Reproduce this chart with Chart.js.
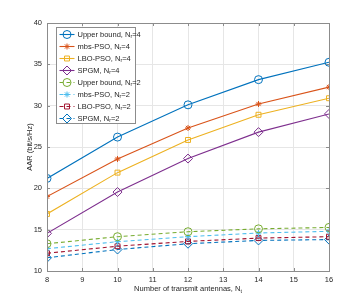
<!DOCTYPE html>
<html lang="en">
<head>
<meta charset="UTF-8">
<title>AAR vs transmit antennas</title>
<script src="https://cdn.jsdelivr.net/npm/chart.js"></script>
<style>
    html, body {
        margin: 0;
        padding: 0;
        background: #ffffff;
    }
    .chart-box {
        position: relative;
        width: 364px;
        height: 305px;
    }
</style>
</head>
<body>
<div class="chart-box">
    <canvas id="aarChart" width="364" height="305"></canvas>
</div>

<script>
    // antenna counts on the x axis
    const antennas = [8, 10, 12, 14, 16];
    const xTicks = [8, 9, 10, 11, 12, 13, 14, 15, 16];
    const yTicks = [10, 15, 20, 25, 30, 35, 40];

    // N_r = 4
    const upperBound4 = [21.2, 26.2, 30.1, 33.15, 35.25];
    const mbsPso4 = [19.0, 23.55, 27.3, 30.2, 32.25];
    const lboPso4 = [16.9, 21.9, 25.85, 28.9, 30.9];
    const spgm4 = [14.55, 19.55, 23.6, 26.8, 29.0];

    // N_r = 2
    const upperBound2 = [13.3, 14.15, 14.75, 15.1, 15.27];
    const mbsPso2 = [12.7, 13.55, 14.15, 14.6, 14.8];
    const lboPso2 = [12.15, 13.0, 13.58, 13.98, 14.15];
    const spgm2 = [11.6, 12.6, 13.3, 13.7, 13.8];

    const seriesNames = ['Upper bound', 'mbs-PSO', 'LBO-PSO', 'SPGM', 'Upper bound', 'mbs-PSO', 'LBO-PSO', 'SPGM'];
    const seriesNr = ['4', '4', '4', '4', '2', '2', '2', '2'];
    const seriesValues = [upperBound4, mbsPso4, lboPso4, spgm4, upperBound2, mbsPso2, lboPso2, spgm2];

    const colors = ['#0072BD', '#D95319', '#EDB120', '#7E2F8E', '#77AC30', '#4DBEEE', '#A2142F', '#0072BD'];
    const markers = ['circle', 'star', 'rect', 'rectRot', 'circle', 'star', 'rect', 'rectRot'];
    const markerSize = [4, 3, 3.5, 4.5, 4, 3, 3.5, 4.5];

    const FONT = '"Liberation Sans", Arial, sans-serif';
    const AXIS_COLOR = '#262626';

    const datasets = seriesValues.map((vals, i) => ({
        label: seriesNames[i] + ', Nr=' + seriesNr[i],
        data: antennas.map((a, k) => ({ x: a, y: vals[k] })),
        borderColor: colors[i],
        backgroundColor: 'rgba(0,0,0,0)',
        pointBorderColor: colors[i],
        pointBackgroundColor: 'rgba(0,0,0,0)',
        pointStyle: markers[i],
        pointRadius: markerSize[i],
        pointBorderWidth: 1,
        borderWidth: 1.1,
        borderDash: i >= 4 ? [4, 3] : [],
        tension: 0
    }));

    // draws "main" + subscript + "rest" starting at x
    function drawSubText(ctx, main, sub, rest, x, y, size) {
        ctx.font = size + 'px ' + FONT;
        ctx.fillText(main, x, y);
        let w = ctx.measureText(main).width;
        ctx.font = (size * 0.7) + 'px ' + FONT;
        ctx.fillText(sub, x + w, y + size * 0.3);
        w += ctx.measureText(sub).width;
        ctx.font = size + 'px ' + FONT;
        ctx.fillText(rest, x + w, y);
        return w + ctx.measureText(rest).width;
    }

    function subTextWidth(ctx, main, sub, rest, size) {
        ctx.font = size + 'px ' + FONT;
        let w = ctx.measureText(main).width + ctx.measureText(rest).width;
        ctx.font = (size * 0.7) + 'px ' + FONT;
        return w + ctx.measureText(sub).width;
    }

    // axes box, inward ticks, axis titles and the legend inside the plot
    const matlabLook = {
        id: 'matlabLook',
        afterDraw(chart) {
            const ctx = chart.ctx;
            const a = chart.chartArea;
            const xs = chart.scales.x, ys = chart.scales.y;
            ctx.save();

            // box
            ctx.strokeStyle = '#8c8c8c';
            ctx.lineWidth = 1;
            ctx.strokeRect(Math.round(a.left) + 0.5, Math.round(a.top) + 0.5,
                Math.round(a.right - a.left), Math.round(a.bottom - a.top));

            // inward ticks
            ctx.beginPath();
            xTicks.forEach(t => {
                const px = Math.round(xs.getPixelForValue(t)) + 0.5;
                ctx.moveTo(px, a.bottom); ctx.lineTo(px, a.bottom - 3);
                ctx.moveTo(px, a.top); ctx.lineTo(px, a.top + 3);
            });
            yTicks.forEach(t => {
                const py = Math.round(ys.getPixelForValue(t)) + 0.5;
                ctx.moveTo(a.left, py); ctx.lineTo(a.left + 3, py);
                ctx.moveTo(a.right, py); ctx.lineTo(a.right - 3, py);
            });
            ctx.stroke();

            // axis titles
            ctx.fillStyle = AXIS_COLOR;
            ctx.textBaseline = 'middle';
            ctx.textAlign = 'left';
            const tSize = 7.5;
            const xw = subTextWidth(ctx, 'Number of transmit antennas, N', 't', '', tSize);
            drawSubText(ctx, 'Number of transmit antennas, N', 't', '', (a.left + a.right) / 2 - xw / 2, 289, tSize);

            ctx.save();
            ctx.translate(30, (a.top + a.bottom) / 2);
            ctx.rotate(-Math.PI / 2);
            ctx.textAlign = 'center';
            ctx.font = tSize + 'px ' + FONT;
            ctx.fillText('AAR (bit/s/Hz)', 0, 0);
            ctx.restore();

            // legend
            const lx = 56.5, ly = 27.5, lw = 79, lh = 96;
            ctx.fillStyle = '#ffffff';
            ctx.fillRect(lx, ly, lw, lh);
            ctx.strokeStyle = '#8c8c8c';
            ctx.strokeRect(lx, ly, lw, lh);
            const rowH = 12;
            seriesNames.forEach((name, i) => {
                const cy = ly + 7 + i * rowH;
                ctx.strokeStyle = colors[i];
                ctx.lineWidth = 1.1;
                ctx.setLineDash(i >= 4 ? [4, 3] : []);
                ctx.beginPath();
                ctx.moveTo(lx + 3, cy);
                ctx.lineTo(lx + 18, cy);
                ctx.stroke();
                ctx.setLineDash([]);
                ctx.lineWidth = 1;
                ctx.fillStyle = 'rgba(0,0,0,0)';
                Chart.helpers.drawPoint(ctx, {
                    pointStyle: markers[i],
                    radius: markerSize[i],
                    rotation: 0,
                    borderWidth: 1
                }, lx + 10.5, cy);
                ctx.fillStyle = AXIS_COLOR;
                ctx.textAlign = 'left';
                drawSubText(ctx, name + ', N', 'r', '=' + seriesNr[i], lx + 21, cy, 7.5);
            });
            ctx.restore();
        }
    };

    const ctxAar = document.getElementById('aarChart').getContext('2d');
    const aarChart = new Chart(ctxAar, {
        type: 'line',
        data: { datasets: datasets },
        options: {
            responsive: false,
            animation: false,
            layout: {
                padding: { left: 27, right: 35, top: 23, bottom: 23 }
            },
            plugins: {
                legend: { display: false },
                tooltip: { enabled: false }
            },
            scales: {
                x: {
                    type: 'linear',
                    min: 8,
                    max: 16,
                    afterBuildTicks: s => { s.ticks = xTicks.map(v => ({ value: v })); },
                    afterFit: s => { s.height = 11; },
                    grid: { color: '#e6e6e6', drawTicks: false },
                    border: { display: false },
                    ticks: {
                        color: AXIS_COLOR,
                        font: { family: FONT, size: 7.5 },
                        padding: 4,
                        maxRotation: 0
                    }
                },
                y: {
                    min: 10,
                    max: 40,
                    afterBuildTicks: s => { s.ticks = yTicks.map(v => ({ value: v })); },
                    afterFit: s => { s.width = 20; },
                    grid: { color: '#e6e6e6', drawTicks: false },
                    border: { display: false },
                    ticks: {
                        color: AXIS_COLOR,
                        font: { family: FONT, size: 7.5 },
                        padding: 5
                    }
                }
            }
        },
        plugins: [matlabLook]
    });
</script>
</body>
</html>
